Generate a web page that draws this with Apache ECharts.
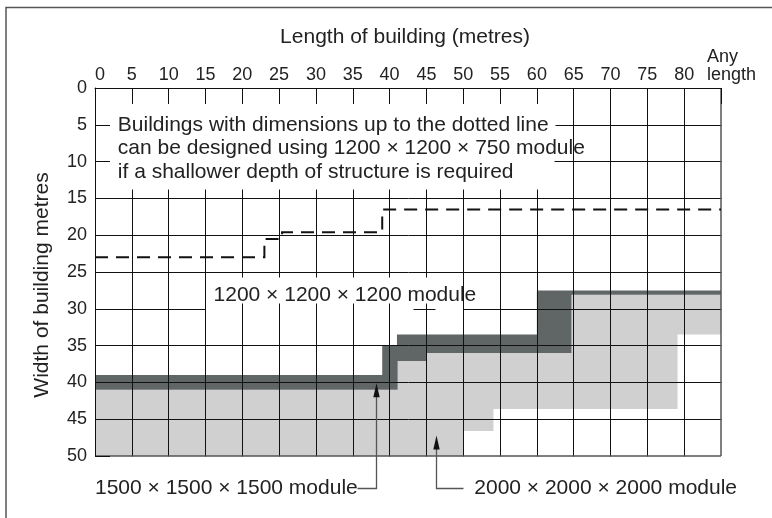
<!DOCTYPE html>
<html>
<head>
<meta charset="utf-8">
<script src="https://cdn.jsdelivr.net/npm/echarts@6/dist/echarts.min.js"></script>
<style>
  html, body { margin: 0; padding: 0; background: #fff; }
  #chart { width: 772px; height: 518px; }
</style>
</head>
<body>
<div id="chart"></div>
<script>
const FONT = '"Liberation Sans", Arial, Helvetica, sans-serif';

// Axes (metres)
const lengthTicks = [0, 5, 10, 15, 20, 25, 30, 35, 40, 45, 50, 55, 60, 65, 70, 75, 80, 85];
const lengthTickLabels = ['0', '5', '10', '15', '20', '25', '30', '35', '40', '45', '50', '55', '60', '65', '70', '75', '80', 'Any\nlength'];
const widthTicks = [0, 5, 10, 15, 20, 25, 30, 35, 40, 45, 50];

// Dotted limit for the 1200 x 1200 x 750 module: [length, width] corners
const shallowLimit = [[0, 23], [23, 23], [23, 20.5], [25.4, 20.5], [25.4, 19.6], [39, 19.6], [39, 16.5], [85, 16.5]];

// Dark band separating the 1200 module zone from the larger modules
const bandUpper = [[0, 39], [39, 39], [39, 35], [41, 35], [41, 33.5], [60, 33.5], [60, 27.5], [85, 27.5]];
const bandLower = [[85, 28.1], [64.7, 28.1], [64.7, 36], [45, 36], [45, 37.1], [41.1, 37.1], [41.1, 41], [0, 41]];

// Light zone covered by the 1500 and 2000 modules
const largeModuleZone = [[0, 41], [41.1, 41], [41.1, 37.1], [45, 37.1], [45, 36], [64.7, 36], [64.7, 28.1], [85, 28.1],
  [85, 33.5], [79.1, 33.5], [79.1, 43.6], [54.1, 43.6], [54.1, 46.6], [50, 46.6], [50, 50], [0, 50]];

// Leader lines ending in an arrow head (last point is the tip)
const leader1500 = [[35.6, 54.4], [38.2, 54.4], [38.2, 40.1]];
const leader2000 = [[50.0, 54.4], [46.3, 54.4], [46.3, 47.2]];

// Annotation texts: [length, width, text]
const notes = [
  [3.1, 5, 'Buildings with dimensions up to the dotted line'],
  [3.1, 8.2, 'can be designed using 1200 \u00d7 1200 \u00d7 750 module'],
  [3.1, 11.4, 'if a shallower depth of structure is required'],
  [16.1, 28.2, '1200 \u00d7 1200 \u00d7 1200 module'],
  [0, 54.4, '1500 \u00d7 1500 \u00d7 1500 module'],
  [51.5, 54.4, '2000 \u00d7 2000 \u00d7 2000 module']
];

// Grid segments, left open where the notes sit
const gridSegments = [];
for (let x = 5; x <= 80; x += 5) {
  if (x >= 65) gridSegments.push([[x, 0], [x, 50]]);
  else if (x >= 20 && x <= 45) { gridSegments.push([[x, 13.8], [x, 25.7]]); gridSegments.push([[x, 29.3], [x, 50]]); }
  else gridSegments.push([[x, 13.8], [x, 50]]);
}
gridSegments.push([[62.5, 5], [85, 5]], [[62.3, 10], [85, 10]]);
[15, 20, 25, 35, 40, 45].forEach(y => gridSegments.push([[0, y], [85, y]]));
gridSegments.push([[0, 30], [15, 30]], [[43.2, 30], [46.2, 30]], [[50, 30], [85, 30]]);
const frameSegments = [[[85, 0], [85, 50]], [[0, 50], [85, 50]]];

const chart = echarts.init(document.getElementById('chart'), null, { renderer: 'canvas' });

// Same pixel snapping rule as the axis renderer, so ticks and grid lines coincide
function snap(v, w) {
  const r = Math.round(v * 2);
  return (r + Math.round(w)) % 2 === 0 ? r / 2 : (r + 1) / 2;
}

function polygonSeries(name, pts, color, z) {
  return {
    name, type: 'custom', coordinateSystem: 'cartesian2d', z, silent: true,
    data: [[0, 0]],
    renderItem: (params, api) => ({
      type: 'polygon',
      shape: { points: pts.map(p => api.coord(p)) },
      style: { fill: color, stroke: null }
    })
  };
}

function leaderSeries(name, pts, z) {
  return {
    name, type: 'custom', coordinateSystem: 'cartesian2d', z, silent: true, clip: false,
    data: [[0, 0]],
    renderItem: (params, api) => {
      const px = pts.map(p => api.coord(p));
      const tip = px[px.length - 1];
      const prev = px[px.length - 2];
      const dy = tip[1] - prev[1];
      const dir = dy < 0 ? -1 : 1;
      const headLen = 14, headHalf = 3.2;
      const baseY = tip[1] - dir * headLen;
      const lineEnd = [tip[0], tip[1] - dir * (headLen - 2)];
      const linePts = px.slice(0, -1).concat([lineEnd]).map(p => [snap(p[0], 1), snap(p[1], 1)]);
      const cx = snap(tip[0], 1);
      return {
        type: 'group',
        children: [
          { type: 'polyline', shape: { points: linePts }, style: { stroke: '#555', lineWidth: 1.3, fill: null } },
          { type: 'polygon', shape: { points: [[cx, tip[1]], [cx - headHalf, baseY], [cx + headHalf, baseY]] }, style: { fill: '#111' } }
        ]
      };
    }
  };
}

const option = {
  animation: false,
  backgroundColor: '#fff',
  textStyle: { fontFamily: FONT },
  grid: { left: 95, top: 88, right: 51, bottom: 62, containLabel: false },
  xAxis: {
    type: 'value', position: 'top', min: 0, max: 85, interval: 5, z: 10,
    axisLine: { show: true, lineStyle: { color: '#111', width: 1 } },
    axisTick: { show: true, inside: true, length: 16, lineStyle: { color: '#111', width: 1 } },
    splitLine: { show: false },
    axisLabel: {
      margin: 4, color: '#222', fontSize: 18, fontFamily: FONT,
      interval: 0, showMinLabel: true, showMaxLabel: true,
      alignMinLabel: 'left',
      formatter: v => {
        const i = lengthTicks.indexOf(v);
        const t = i >= 0 ? lengthTickLabels[i] : '';
        return t.indexOf('\n') >= 0 ? t.split('\n').map(s => '{any|' + s + '}').join('\n') : t;
      },
      rich: { any: { fontSize: 18, fontFamily: FONT, color: '#222', align: 'left', lineHeight: 18, width: 28, overflow: 'none' } }
    }
  },
  yAxis: {
    type: 'value', inverse: true, min: 0, max: 50, interval: 5, z: 10,
    axisLine: { show: true, lineStyle: { color: '#111', width: 1 } },
    axisTick: { show: true, inside: true, length: 15, lineStyle: { color: '#111', width: 1 } },
    splitLine: { show: false },
    axisLabel: {
      margin: 8, color: '#222', fontSize: 18, fontFamily: FONT,
      formatter: v => widthTicks.indexOf(v) >= 0 ? String(v) : ''
    }
  },
  graphic: [
    { type: 'polyline', shape: { points: [[6, 518], [6, 7.5], [772, 7.5]] }, style: { stroke: '#555', lineWidth: 1.5, fill: null }, silent: true },
    { type: 'text', x: 405, y: 37, style: { text: 'Length of building (metres)', font: '21px ' + FONT, fill: '#222', align: 'center', verticalAlign: 'middle' }, silent: true },
    { type: 'text', x: 42, y: 285, rotation: Math.PI / 2, style: { text: 'Width of building metres', font: '21px ' + FONT, fill: '#222', align: 'center', verticalAlign: 'middle' }, silent: true }
  ],
  series: [
    polygonSeries('large modules', largeModuleZone, '#d0d0d0', 1),
    polygonSeries('boundary band', bandUpper.concat(bandLower), '#606566', 2),
    {
      name: 'grid', type: 'custom', coordinateSystem: 'cartesian2d', z: 3, silent: true, clip: false,
      data: [[0, 0]],
      renderItem: (params, api) => {
        const seg = (s, color, w) => {
          const a = api.coord(s[0]), b = api.coord(s[1]);
          return { type: 'line', shape: { x1: snap(a[0], w), y1: snap(a[1], w), x2: snap(b[0], w), y2: snap(b[1], w) }, style: { stroke: color, lineWidth: w } };
        };
        return {
          type: 'group',
          children: gridSegments.map(s => seg(s, '#111', 1)).concat(frameSegments.map(s => seg(s, '#555', 1.5)))
        };
      }
    },
    {
      name: 'shallow limit', type: 'custom', coordinateSystem: 'cartesian2d', z: 4, silent: true,
      data: [[0, 0]],
      renderItem: (params, api) => ({
        type: 'polyline',
        shape: { points: shallowLimit.map(p => api.coord(p)) },
        style: { stroke: '#111', lineWidth: 2, lineDash: [13, 8], fill: null }
      })
    },
    leaderSeries('leader 1500', leader1500, 5),
    leaderSeries('leader 2000', leader2000, 5),
    {
      name: 'notes', type: 'custom', coordinateSystem: 'cartesian2d', z: 6, silent: true, clip: false,
      data: notes,
      renderItem: (params, api) => {
        const n = notes[params.dataIndex];
        const p = api.coord([n[0], n[1]]);
        return {
          type: 'text', x: p[0], y: p[1],
          style: { text: n[2], font: '21px ' + FONT, fill: '#222', align: 'left', verticalAlign: 'middle' }
        };
      }
    }
  ]
};

chart.setOption(option);
</script>
</body>
</html>
